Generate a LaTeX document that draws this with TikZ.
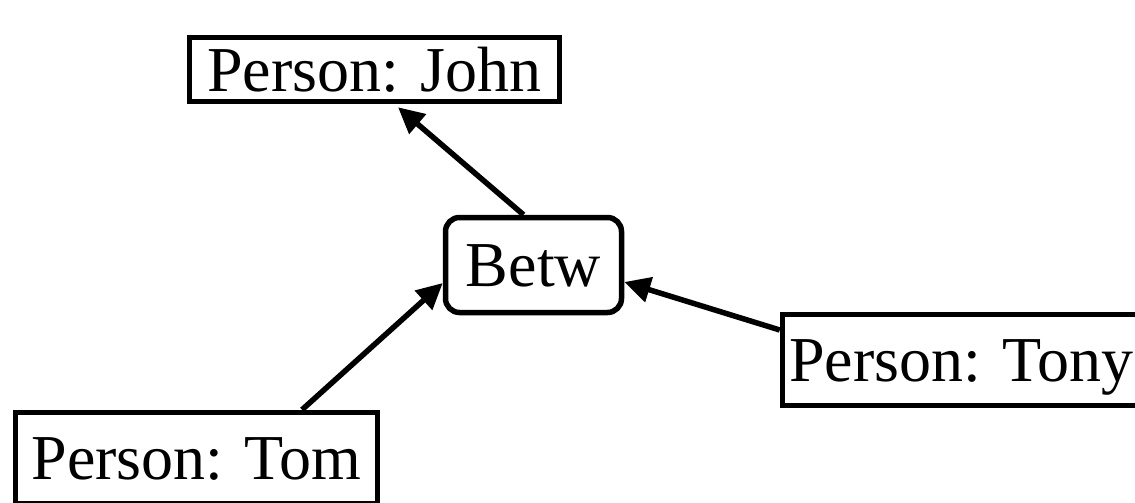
\documentclass[tikz,border=0pt]{standalone}
\usepackage{fontspec}
\setmainfont{Liberation Serif}
\usetikzlibrary{shapes,positioning,calc,arrows.meta}

\begin{document}
\begin{tikzpicture}[
    x=0.5pt, y=-0.5pt,
    mynode/.style = {draw, line width=2.75pt, inner sep=0pt, font=\fontsize{32pt}{36pt}\selectfont, text height=21.5pt, text depth=0pt},
    person/.style = {mynode, minimum height=45.5pt},
    rel/.style = {mynode, rounded corners=7pt, minimum width=88pt, minimum height=47.5pt},
    link/.style = {-{Triangle[length=13pt,width=12.5pt]}, line width=2.75pt}
    ]
    \useasboundingbox (0,0) rectangle (1135,503);
    \clip (0,0) rectangle (1135,503);
    \node[person, minimum width=185pt, minimum height=32pt] (john) at (374.5,69.5) {Person: John};
    \node[rel] (betw) at (533.5,265) {Betw};
    \node[person, minimum width=178.5pt] (tony) at (961,360) {Person: Tony};
    \node[person, minimum width=181pt] (tom) at (196.5,458) {Person: Tom};
    \path[link] ([xshift=-5pt]betw.north) edge ([xshift=11.75pt,yshift=-1.5pt]john.south);
    \path[link] ([xshift=52.75pt]tom.north) edge ([yshift=-9pt]betw.west);
    \path[link] ([yshift=15pt]tony.west) edge ([yshift=-8.5pt]betw.east);
  \end{tikzpicture}
\end{document}
